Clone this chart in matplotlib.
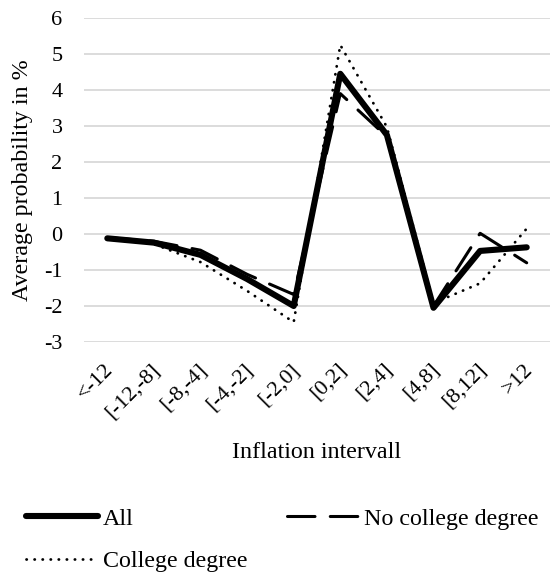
import matplotlib
matplotlib.use('Agg')
import numpy as np
from matplotlib import pyplot as plt, transforms

plt.rcParams['font.family'] = ['Liberation Serif', 'DejaVu Serif']

# values
categories = ['<-12', '[-12,-8]', '[-8,-4]', '[-4,-2]', '[-2,0]',
              '[0,2]', '[2,4]', '[4,8]', '[8,12]', '>12']
all_values = [-0.12, -0.24, -0.58, -1.25, -2.0, 4.45, 2.75, -2.05, -0.47, -0.37]
no_college_values = [-0.1, -0.2, -0.45, -1.12, -1.68, 3.9, 2.7, -2.0, 0.02, -0.8]
college_values = [-0.1, -0.28, -0.78, -1.58, -2.45, 5.25, 2.97, -1.92, -1.37, 0.15]
y_ticks = [-3, -2, -1, 0, 1, 2, 3, 4, 5, 6]

W, H = 552, 574
fig = plt.figure(figsize=(W / 100, H / 100), dpi=100)
ax = fig.add_axes([84 / W, 1 - 342 / H, (550 - 84) / W, (342 - 18) / H])

x = np.arange(len(categories))
l_all, = ax.plot(x, all_values, color='black', lw=4.4,
                 solid_capstyle='round', solid_joinstyle='round', label='All')
l_no, = ax.plot(x, no_college_values, color='black', lw=2.2,
                linestyle=(0, (9, 5)), dash_capstyle='round',
                label='No college degree')
l_col, = ax.plot(x, college_values, color='black', lw=2.0,
                 linestyle=(0, (0.1, 2.8)), dash_capstyle='round',
                 label='College degree')

ax.set_xlim(-0.5, len(categories) - 0.5)
ax.set_ylim(-3, 6)
ax.set_yticks(y_ticks)
ax.set_yticklabels([str(t) for t in y_ticks])
ax.grid(axis='y', color='#d9d9d9', lw=1.3)
ax.set_axisbelow(True)
for s in ax.spines.values():
    s.set_visible(False)
ax.tick_params(axis='both', length=0, labelsize=16)
ax.tick_params(axis='y', pad=15.5)
ax.tick_params(axis='x', pad=13)

ax.set_xticks(x)
ax.set_xticklabels(categories, rotation=45, ha='right', va='top')
# tick_params resets label transforms, so shift after it
shift = transforms.ScaledTranslation(10 / 100, 0, fig.dpi_scale_trans)
for lbl in ax.get_xticklabels():
    lbl.set_transform(lbl.get_transform() + shift)

ax.set_ylabel('Average probability in %', fontsize=17.3)
ax.yaxis.set_label_coords((23 - 84) / 466, 0.5)
ax.yaxis.label.set_va('center')
ax.set_xlabel('Inflation intervall', fontsize=17.3)
ax.xaxis.set_label_coords(0.5, 1 - (458 - 18) / (342 - 18))
ax.xaxis.label.set_va('baseline')

fig.legend(handles=[l_all, l_col, l_no], ncol=2, frameon=False,
           loc='upper left', bbox_to_anchor=(26 / W, 1 - 508 / H),
           borderpad=0, borderaxespad=0, fontsize=17.3,
           handlelength=3.0, handletextpad=0.2, columnspacing=1.65,
           labelspacing=0.85)

fig.savefig('out.png', dpi=100)
